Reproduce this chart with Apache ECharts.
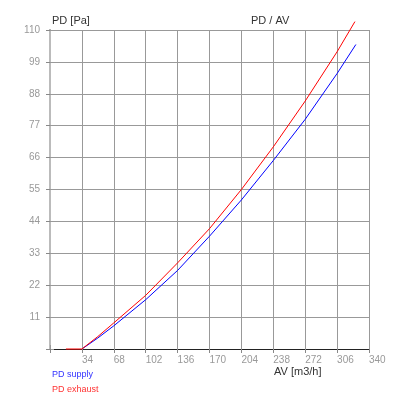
<!DOCTYPE html>
<html>
<head>
<meta charset="utf-8">
<script src="https://cdn.jsdelivr.net/npm/echarts@6/dist/echarts.min.js"></script>
<style>html,body{margin:0;padding:0;background:#fff}#c{width:400px;height:400px}</style>
</head>
<body>
<div id="c"></div>
<script>
const supplyAV = [34, 51, 68, 102, 136, 170, 204, 238, 272, 306, 326];
const supplyPD = [0, 3.8, 8, 17, 27.1, 38.9, 51.4, 65, 79.2, 95, 105];
const exhaustAV = [17, 34, 51, 68, 102, 136, 170, 204, 238, 272, 306, 325];
const exhaustPD = [0, 0, 4.3, 9, 18.5, 29.7, 41.5, 55, 69.7, 85.5, 102.5, 112.9];
const seriesNames = ['PD supply', 'PD exhaust'];
const chartTitle = 'PD / AV';
const xName = 'AV [m3/h]';
const yName = 'PD [Pa]';

const font = 'Liberation Sans, Arial, sans-serif';
const chart = echarts.init(document.getElementById('c'));
const pairs = (xs, ys) => xs.map((x, i) => [x, ys[i]]);
const legendBase = { left: 47, icon: 'none', itemWidth: 0, itemHeight: 9, selectedMode: false, padding: 0,
  textStyle: { fontFamily: font, fontSize: 9 } };
chart.setOption({
  animation: false,
  grid: { left: 50, right: 31, top: 30, bottom: 51 },
  graphic: [
    { type: 'text', left: 52, top: 15, style: { text: yName, font: '11px ' + font, fill: '#333' } },
    { type: 'text', left: 251, top: 15, style: { text: chartTitle, font: '11px ' + font, fill: '#333' } },
    { type: 'text', left: 274, top: 366, style: { text: xName, font: '11px ' + font, fill: '#333' } }
  ],
  legend: [
    Object.assign({}, legendBase, { top: 370, data: [{ name: seriesNames[0], textStyle: { color: '#3333ff' } }] }),
    Object.assign({}, legendBase, { top: 385, data: [{ name: seriesNames[1], textStyle: { color: '#ff3333' } }] })
  ],
  xAxis: [{
    type: 'value', min: 0, max: 340, interval: 34,
    axisLine: { show: true, lineStyle: { color: '#222', width: 1 } },
    axisTick: { show: true, length: 4, lineStyle: { color: '#888' } },
    axisLabel: { color: '#999', fontFamily: font, fontSize: 10, margin: 6, align: 'left',
      formatter: v => v === 0 ? '' : String(v) },
    splitLine: { show: true, lineStyle: { color: '#999', width: 1 } }
  }, {
    type: 'value', min: 0, max: 340, interval: 34, position: 'top',
    axisLine: { show: false },
    axisTick: { show: true, length: 4, lineStyle: { color: '#999' } },
    axisLabel: { show: false }, splitLine: { show: false }
  }],
  yAxis: [{
    type: 'value', min: 0, max: 110, interval: 11,
    axisLine: { show: true, lineStyle: { color: '#888', width: 2 } },
    axisTick: { show: true, length: 4, lineStyle: { color: '#888' } },
    axisLabel: { color: '#999', fontFamily: font, fontSize: 10, margin: 10, padding: [6, 0, 0, 0],
      formatter: v => v === 0 ? '' : String(v) },
    splitLine: { show: true, lineStyle: { color: '#999', width: 1 } }
  }, {
    type: 'value', min: 0, max: 110, interval: 11, position: 'right',
    axisLine: { show: true, lineStyle: { color: '#bbb', width: 2 } },
    axisTick: { show: true, length: 4, lineStyle: { color: '#999' } },
    axisLabel: { show: false }, splitLine: { show: false }
  }],
  series: [
    { name: seriesNames[0], type: 'line', data: pairs(supplyAV, supplyPD), showSymbol: false, clip: false,
      smooth: false, lineStyle: { color: '#0000ff', width: 1 }, itemStyle: { color: '#0000ff' }, z: 5 },
    { name: seriesNames[1], type: 'line', data: pairs(exhaustAV, exhaustPD), showSymbol: false, clip: false,
      smooth: false, lineStyle: { color: '#ff0000', width: 1 }, itemStyle: { color: '#ff0000' }, z: 6 }
  ]
});
</script>
</body>
</html>
